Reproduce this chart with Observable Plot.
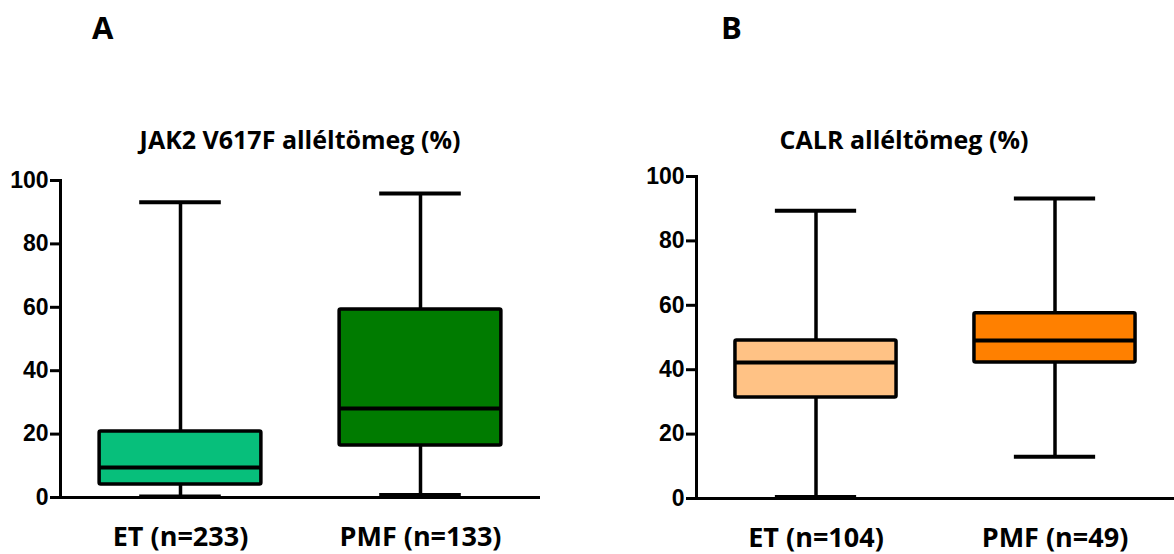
<!DOCTYPE html>
<html>
<head>
<meta charset="utf-8">
<script src="https://cdn.jsdelivr.net/npm/d3@7"></script>
<script src="https://cdn.jsdelivr.net/npm/@observablehq/plot@0.6"></script>
<style>
  body { margin: 0; background: #fff; }
  #wrap { position: relative; width: 1174px; height: 554px; overflow: hidden; }
  .lbl { position: absolute; font-family: "Open Sans", sans-serif; font-weight: 700; color: #000; white-space: nowrap; line-height: 1.2; }
  .panel { position: absolute; }
</style>
</head>
<body>
<div id="wrap"></div>
<script>
// Panel A: JAK2 V617F allele burden
const groupsA = ["ET (n=233)", "PMF (n=133)"];
const minA = [0.3, 0.8];
const q1A  = [4.1, 16.4];
const medA = [9.5, 28.1];
const q3A  = [20.8, 59.3];
const maxA = [93.1, 95.9];
const colorsA = ["#07bf7b", "#007b00"];

// Panel B: CALR allele burden
const groupsB = ["ET (n=104)", "PMF (n=49)"];
const minB = [0.5, 13.0];
const q1B  = [31.4, 42.2];
const medB = [42.2, 49.1];
const q3B  = [49.1, 57.5];
const maxB = [89.4, 93.2];
const colorsB = ["#ffc285", "#ff8000"];

const yTicks = [0, 20, 40, 60, 80, 100];

function rows(groups, mn, q1, md, q3, mx) {
  return groups.map((g, i) => ({g, min: mn[i], q1: q1[i], med: md[i], q3: q3[i], max: mx[i]}));
}

function boxChart(data, groups, colors, opts) {
  const step = (opts.width - opts.marginLeft - opts.marginRight) / groups.length;
  const boxInset = step * 0.163;
  const capInset = step * 0.33;
  return Plot.plot({
    width: opts.width,
    height: opts.height,
    marginLeft: opts.marginLeft,
    marginRight: opts.marginRight,
    marginTop: opts.marginTop,
    marginBottom: opts.marginBottom,
    x: {domain: groups, padding: 0, axis: null, label: null},
    y: {domain: [0, 100], axis: null, label: null},
    color: {domain: groups, range: colors},
    marks: [
      Plot.ruleX(data, {x: "g", y1: "min", y2: "max", stroke: "#000", strokeWidth: 3.5}),
      Plot.tickY(data, {x: "g", y: "min", stroke: "#000", strokeWidth: 4, insetLeft: capInset, insetRight: capInset}),
      Plot.tickY(data, {x: "g", y: "max", stroke: "#000", strokeWidth: 4, insetLeft: capInset, insetRight: capInset}),
      Plot.barY(data, {x: "g", y1: "q1", y2: "q3", fill: "g", stroke: "#000", strokeWidth: 3.5, insetLeft: boxInset, insetRight: boxInset, rx: 1.5}),
      Plot.tickY(data, {x: "g", y: "med", stroke: "#000", strokeWidth: 4, insetLeft: boxInset, insetRight: boxInset}),
      Plot.ruleY([0], {stroke: "#000", strokeWidth: 3}),
      Plot.frame({anchor: "left", stroke: "#000", strokeWidth: 3}),
      Plot.axisY({ticks: yTicks, tickSize: 10, tickPadding: 2, tickFormat: d => d, strokeWidth: 3, label: null,
                  fontSize: 23, fontWeight: "bold", fontFamily: "Liberation Sans, Arial, sans-serif", fill: "#000", stroke: "#000"}),
      Plot.axisX({tickSize: 0, tickPadding: 29, label: null, fontSize: 27, fontWeight: "bold",
                  fontFamily: "Open Sans, sans-serif", fill: "#000"})
    ]
  });
}

const wrap = document.getElementById("wrap");

function addLabel(text, x, y, size, center) {
  const d = document.createElement("div");
  d.className = "lbl";
  d.textContent = text;
  d.style.left = x + "px";
  d.style.top = y + "px";
  d.style.fontSize = size + "px";
  if (center) d.style.transform = "translateX(-50%)";
  wrap.appendChild(d);
}

addLabel("A", 92, 9, 31, false);
addLabel("B", 721, 9, 31, false);
addLabel("JAK2 V617F alléltömeg (%)", 300, 124, 25, true);
addLabel("CALR alléltömeg (%)", 904, 124, 25, true);

const dataA = rows(groupsA, minA, q1A, medA, q3A, maxA);
const dataB = rows(groupsB, minB, q1B, medB, q3B, maxB);

const chartA = boxChart(dataA, groupsA, colorsA, {width: 600, height: 404, marginLeft: 60, marginRight: 60, marginTop: 30, marginBottom: 57});
const chartB = boxChart(dataB, groupsB, colorsB, {width: 538, height: 404, marginLeft: 60, marginRight: 0, marginTop: 26, marginBottom: 56});

const pA = document.createElement("div");
pA.className = "panel"; pA.style.left = "0px"; pA.style.top = "150px";
pA.appendChild(chartA);
wrap.appendChild(pA);

const pB = document.createElement("div");
pB.className = "panel"; pB.style.left = "636px"; pB.style.top = "150px";
pB.appendChild(chartB);
wrap.appendChild(pB);
</script>
</body>
</html>
